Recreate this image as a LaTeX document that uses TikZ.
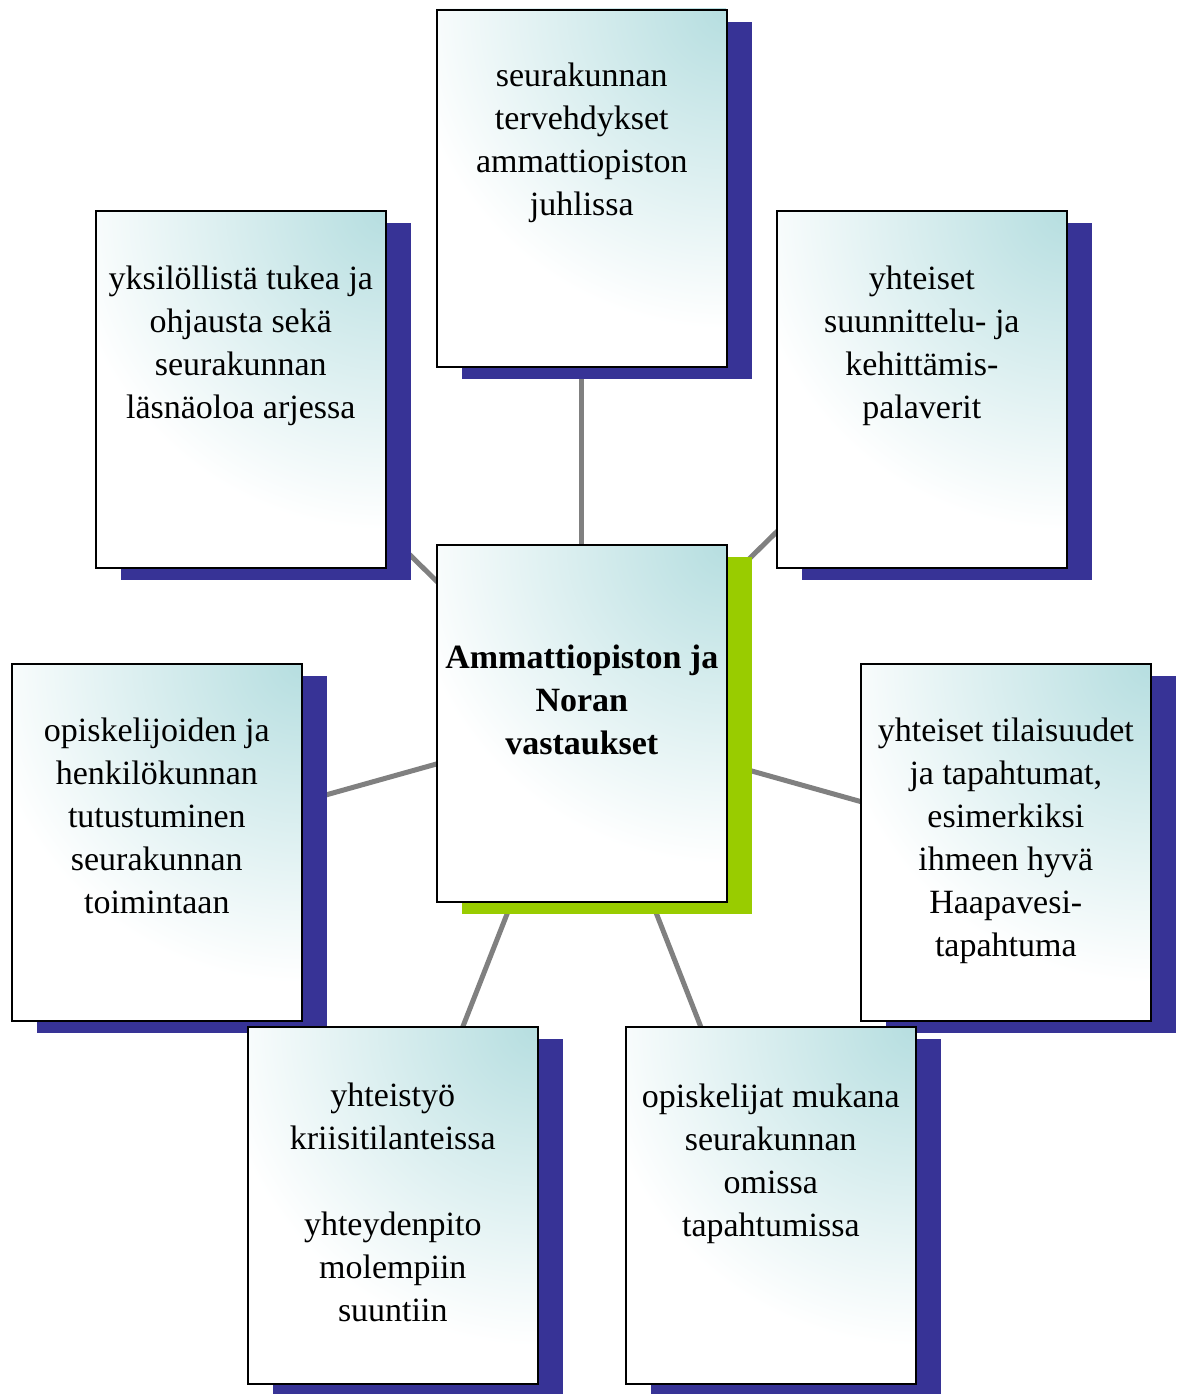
\documentclass[tikz,border=0pt]{standalone}
\usepackage{fontspec}
\setmainfont{Liberation Serif}
\definecolor{shblue}{RGB}{55,51,150}
\definecolor{shgreen}{RGB}{153,204,0}
\definecolor{gradc}{RGB}{182,222,224}
\definecolor{conncol}{RGB}{128,128,128}
\pgfdeclarelayer{background}
\pgfsetlayers{background,main}
\tikzset{
  connline/.style={draw=conncol, line width=5pt},
  boxframe/.style={draw=black, line width=1.6pt, minimum width=290pt, minimum height=357pt, inner sep=0pt, anchor=north west},
  boxtext/.style={anchor=north, align=center, inner sep=0pt, font=\fontsize{34}{43}\selectfont},
}
% name, x1, y1, shadow colour
\newcommand\mybox[4]{%
  \fill[#4] (#2+26,#3+13) rectangle (#2+316,#3+370);
  \fill[white] (#2,#3) rectangle (#2+290,#3+357);
  \begin{scope}
    \clip (#2,#3) rectangle (#2+290,#3+357);
    \shade[inner color=gradc, outer color=white] (#2+290,#3) circle (320);
  \end{scope}
  \node[boxframe] (#1) at (#2,#3) {};
}
\begin{document}
\begin{tikzpicture}[x=1pt,y=-1pt]
\useasboundingbox (0,0) rectangle (1184,1394);

\mybox{top}{436}{9}{shblue}
\mybox{tl}{95}{210}{shblue}
\mybox{tr}{776}{210}{shblue}
\mybox{lf}{11}{663}{shblue}
\mybox{rt}{860}{663}{shblue}
\mybox{bl}{247}{1026}{shblue}
\mybox{br}{625}{1026}{shblue}
\mybox{ctr}{436}{544}{shgreen}

\begin{pgfonlayer}{background}
  \fill[white] (0,0) rectangle (1184,1394);
  \foreach \n in {top,tl,tr,lf,rt,bl,br}
    \draw[connline] (ctr.center) -- (\n.center);
\end{pgfonlayer}

\node[boxtext] (toptext) at ([yshift=-47pt]top.north) {\strut seurakunnan\\tervehdykset\\ammattiopiston\\juhlissa};
\node[boxtext] (tltext) at ([yshift=-49pt]tl.north) {\strut yksilöllistä tukea ja\\ohjausta sekä\\seurakunnan\\läsnäoloa arjessa};
\node[boxtext] (trtext) at ([yshift=-49pt]tr.north) {\strut yhteiset\\suunnittelu- ja\\kehittämis-\\palaverit};
\node[boxtext] (lftext) at ([yshift=-48pt]lf.north) {\strut opiskelijoiden ja\\henkilökunnan\\tutustuminen\\seurakunnan\\toimintaan};
\node[boxtext] (rttext) at ([yshift=-48pt]rt.north) {\strut yhteiset tilaisuudet\\ja tapahtumat,\\esimerkiksi\\ihmeen hyvä\\Haapavesi-\\tapahtuma};
\node[boxtext] (bltext) at ([yshift=-50pt]bl.north) {\strut yhteistyö\\kriisitilanteissa\\\strut\\yhteydenpito\\molempiin\\suuntiin};
\node[boxtext] (brtext) at ([yshift=-51pt]br.north) {\strut opiskelijat mukana\\seurakunnan\\omissa\\tapahtumissa};
\node[boxtext, font=\fontsize{34}{43}\selectfont\bfseries] (ctrtext) at ([yshift=-94pt]ctr.north) {\strut Ammattiopiston ja\\Noran\\vastaukset};
\end{tikzpicture}
\end{document}
